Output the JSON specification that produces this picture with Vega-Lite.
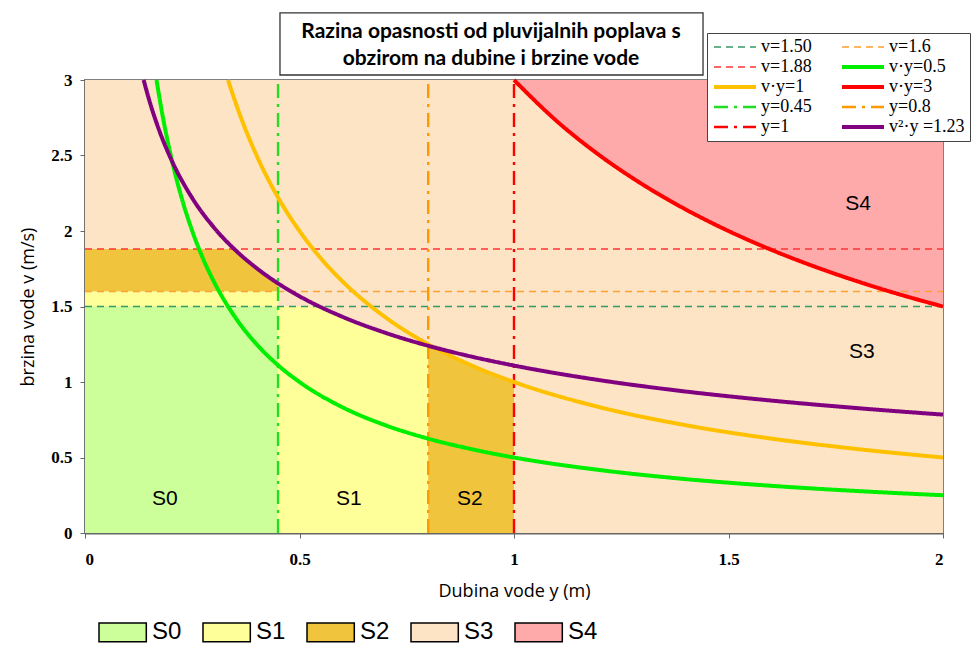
{
  "$schema": "https://vega.github.io/schema/vega-lite/v6.json",
  "width": 858,
  "height": 453,
  "autosize": {"type": "none"},
  "padding": {"left": 85, "top": 80, "right": 28, "bottom": 113},
  "background": "white",
  "title": {
    "text": ["Razina opasnosti od  pluvijalnih poplava s", "obzirom na dubine i brzine vode"],
    "font": "Lato",
    "fontSize": 21,
    "fontWeight": "bold",
    "color": "black",
    "anchor": "middle",
    "frame": "group",
    "dx": -23,
    "offset": -57,
    "lineHeight": 27,
    "zindex": 2
  },
  "config": {
    "view": {"stroke": "#808080", "strokeWidth": 2},
    "axis": {
      "zindex": 1,
      "labelFont": "Liberation Serif",
      "labelFontWeight": "bold",
      "labelFontSize": 17,
      "labelColor": "black",
      "tickColor": "#666666",
      "tickSize": 5,
      "domainColor": "#666666",
      "domainWidth": 2,
      "titleFont": "Open Sans",
      "titleFontSize": 18,
      "titleFontWeight": "normal",
      "titleColor": "black",
      "gridColor": "#999999",
      "gridOpacity": 0.6
    }
  },
  "datasets": {
    "zones": [
      {"zone": "S3", "piece": "a", "y": 0, "v": 3, "v2": 0},
      {"zone": "S3", "piece": "a", "y": 2, "v": 3, "v2": 0},
      {"zone": "S4", "piece": "b", "y": 1, "v": 3, "v2": 3},
      {"zone": "S4", "piece": "b", "y": 1.05, "v": 3, "v2": 2.857},
      {"zone": "S4", "piece": "b", "y": 1.1, "v": 3, "v2": 2.727},
      {"zone": "S4", "piece": "b", "y": 1.15, "v": 3, "v2": 2.609},
      {"zone": "S4", "piece": "b", "y": 1.2, "v": 3, "v2": 2.5},
      {"zone": "S4", "piece": "b", "y": 1.3, "v": 3, "v2": 2.308},
      {"zone": "S4", "piece": "b", "y": 1.4, "v": 3, "v2": 2.143},
      {"zone": "S4", "piece": "b", "y": 1.5, "v": 3, "v2": 2},
      {"zone": "S4", "piece": "b", "y": 1.6, "v": 3, "v2": 1.875},
      {"zone": "S4", "piece": "b", "y": 1.7, "v": 3, "v2": 1.765},
      {"zone": "S4", "piece": "b", "y": 1.8, "v": 3, "v2": 1.667},
      {"zone": "S4", "piece": "b", "y": 1.9, "v": 3, "v2": 1.579},
      {"zone": "S4", "piece": "b", "y": 2, "v": 3, "v2": 1.5},
      {"zone": "S2", "piece": "c", "y": 0, "v": 1.88, "v2": 1.6},
      {"zone": "S2", "piece": "c", "y": 0.348, "v": 1.88, "v2": 1.6},
      {"zone": "S2", "piece": "c", "y": 0.37, "v": 1.823, "v2": 1.6},
      {"zone": "S2", "piece": "c", "y": 0.39, "v": 1.776, "v2": 1.6},
      {"zone": "S2", "piece": "c", "y": 0.41, "v": 1.732, "v2": 1.6},
      {"zone": "S2", "piece": "c", "y": 0.43, "v": 1.691, "v2": 1.6},
      {"zone": "S2", "piece": "c", "y": 0.45, "v": 1.653, "v2": 1.6},
      {"zone": "S1", "piece": "d", "y": 0, "v": 1.6, "v2": 1.5},
      {"zone": "S1", "piece": "d", "y": 0.45, "v": 1.6, "v2": 1.5},
      {"zone": "S0", "piece": "e", "y": 0, "v": 1.5, "v2": 0},
      {"zone": "S0", "piece": "e", "y": 0.45, "v": 1.5, "v2": 0},
      {"zone": "S1", "piece": "f", "y": 0.45, "v": 1.5, "v2": 0},
      {"zone": "S1", "piece": "f", "y": 0.547, "v": 1.5, "v2": 0},
      {"zone": "S1", "piece": "f", "y": 0.6, "v": 1.432, "v2": 0},
      {"zone": "S1", "piece": "f", "y": 0.65, "v": 1.376, "v2": 0},
      {"zone": "S1", "piece": "f", "y": 0.7, "v": 1.326, "v2": 0},
      {"zone": "S1", "piece": "f", "y": 0.75, "v": 1.281, "v2": 0},
      {"zone": "S1", "piece": "f", "y": 0.8, "v": 1.24, "v2": 0},
      {"zone": "S2", "piece": "g", "y": 0.8, "v": 1.24, "v2": 0},
      {"zone": "S2", "piece": "g", "y": 0.85, "v": 1.176, "v2": 0},
      {"zone": "S2", "piece": "g", "y": 0.9, "v": 1.111, "v2": 0},
      {"zone": "S2", "piece": "g", "y": 0.95, "v": 1.053, "v2": 0},
      {"zone": "S2", "piece": "g", "y": 1.0, "v": 1.0, "v2": 0}
    ],
    "lines": [
      {"s": "v=1.50", "i": 0, "y": 0, "v": 1.5},
      {"s": "v=1.50", "i": 1, "y": 2, "v": 1.5},
      {"s": "v=1.6", "i": 0, "y": 0, "v": 1.6},
      {"s": "v=1.6", "i": 1, "y": 2, "v": 1.6},
      {"s": "v=1.88", "i": 0, "y": 0, "v": 1.88},
      {"s": "v=1.88", "i": 1, "y": 2, "v": 1.88},
      {"s": "y=0.45", "i": 0, "y": 0.45, "v": 0},
      {"s": "y=0.45", "i": 1, "y": 0.45, "v": 3},
      {"s": "y=0.8", "i": 0, "y": 0.8, "v": 0},
      {"s": "y=0.8", "i": 1, "y": 0.8, "v": 3},
      {"s": "y=1", "i": 0, "y": 1, "v": 0},
      {"s": "y=1", "i": 1, "y": 1, "v": 3},
      {"s": "v·y=0.5", "i": 0, "y": 0.1667, "v": 3},
      {"s": "v·y=0.5", "i": 1, "y": 0.18, "v": 2.778},
      {"s": "v·y=0.5", "i": 2, "y": 0.2, "v": 2.5},
      {"s": "v·y=0.5", "i": 3, "y": 0.225, "v": 2.222},
      {"s": "v·y=0.5", "i": 4, "y": 0.25, "v": 2},
      {"s": "v·y=0.5", "i": 5, "y": 0.275, "v": 1.818},
      {"s": "v·y=0.5", "i": 6, "y": 0.3, "v": 1.667},
      {"s": "v·y=0.5", "i": 7, "y": 0.35, "v": 1.429},
      {"s": "v·y=0.5", "i": 8, "y": 0.4, "v": 1.25},
      {"s": "v·y=0.5", "i": 9, "y": 0.45, "v": 1.111},
      {"s": "v·y=0.5", "i": 10, "y": 0.5, "v": 1},
      {"s": "v·y=0.5", "i": 11, "y": 0.6, "v": 0.833},
      {"s": "v·y=0.5", "i": 12, "y": 0.7, "v": 0.714},
      {"s": "v·y=0.5", "i": 13, "y": 0.8, "v": 0.625},
      {"s": "v·y=0.5", "i": 14, "y": 0.9, "v": 0.556},
      {"s": "v·y=0.5", "i": 15, "y": 1, "v": 0.5},
      {"s": "v·y=0.5", "i": 16, "y": 1.2, "v": 0.417},
      {"s": "v·y=0.5", "i": 17, "y": 1.4, "v": 0.357},
      {"s": "v·y=0.5", "i": 18, "y": 1.6, "v": 0.3125},
      {"s": "v·y=0.5", "i": 19, "y": 1.8, "v": 0.278},
      {"s": "v·y=0.5", "i": 20, "y": 2, "v": 0.25},
      {"s": "v·y=1", "i": 0, "y": 0.3333, "v": 3},
      {"s": "v·y=1", "i": 1, "y": 0.36, "v": 2.778},
      {"s": "v·y=1", "i": 2, "y": 0.4, "v": 2.5},
      {"s": "v·y=1", "i": 3, "y": 0.45, "v": 2.222},
      {"s": "v·y=1", "i": 4, "y": 0.5, "v": 2},
      {"s": "v·y=1", "i": 5, "y": 0.55, "v": 1.818},
      {"s": "v·y=1", "i": 6, "y": 0.6, "v": 1.667},
      {"s": "v·y=1", "i": 7, "y": 0.7, "v": 1.429},
      {"s": "v·y=1", "i": 8, "y": 0.8, "v": 1.25},
      {"s": "v·y=1", "i": 9, "y": 0.9, "v": 1.111},
      {"s": "v·y=1", "i": 10, "y": 1, "v": 1},
      {"s": "v·y=1", "i": 11, "y": 1.2, "v": 0.833},
      {"s": "v·y=1", "i": 12, "y": 1.4, "v": 0.714},
      {"s": "v·y=1", "i": 13, "y": 1.6, "v": 0.625},
      {"s": "v·y=1", "i": 14, "y": 1.8, "v": 0.556},
      {"s": "v·y=1", "i": 15, "y": 2, "v": 0.5},
      {"s": "v·y=3", "i": 0, "y": 1, "v": 3},
      {"s": "v·y=3", "i": 1, "y": 1.1, "v": 2.727},
      {"s": "v·y=3", "i": 2, "y": 1.2, "v": 2.5},
      {"s": "v·y=3", "i": 3, "y": 1.3, "v": 2.308},
      {"s": "v·y=3", "i": 4, "y": 1.4, "v": 2.143},
      {"s": "v·y=3", "i": 5, "y": 1.5, "v": 2},
      {"s": "v·y=3", "i": 6, "y": 1.6, "v": 1.875},
      {"s": "v·y=3", "i": 7, "y": 1.7, "v": 1.765},
      {"s": "v·y=3", "i": 8, "y": 1.8, "v": 1.667},
      {"s": "v·y=3", "i": 9, "y": 1.9, "v": 1.579},
      {"s": "v·y=3", "i": 10, "y": 2, "v": 1.5},
      {"s": "v²·y =1.23", "i": 0, "y": 0.1367, "v": 3},
      {"s": "v²·y =1.23", "i": 1, "y": 0.15, "v": 2.864},
      {"s": "v²·y =1.23", "i": 2, "y": 0.175, "v": 2.651},
      {"s": "v²·y =1.23", "i": 3, "y": 0.2, "v": 2.48},
      {"s": "v²·y =1.23", "i": 4, "y": 0.25, "v": 2.218},
      {"s": "v²·y =1.23", "i": 5, "y": 0.3, "v": 2.025},
      {"s": "v²·y =1.23", "i": 6, "y": 0.35, "v": 1.875},
      {"s": "v²·y =1.23", "i": 7, "y": 0.4, "v": 1.754},
      {"s": "v²·y =1.23", "i": 8, "y": 0.45, "v": 1.653},
      {"s": "v²·y =1.23", "i": 9, "y": 0.5, "v": 1.568},
      {"s": "v²·y =1.23", "i": 10, "y": 0.6, "v": 1.432},
      {"s": "v²·y =1.23", "i": 11, "y": 0.7, "v": 1.326},
      {"s": "v²·y =1.23", "i": 12, "y": 0.8, "v": 1.24},
      {"s": "v²·y =1.23", "i": 13, "y": 0.9, "v": 1.169},
      {"s": "v²·y =1.23", "i": 14, "y": 1, "v": 1.109},
      {"s": "v²·y =1.23", "i": 15, "y": 1.2, "v": 1.012},
      {"s": "v²·y =1.23", "i": 16, "y": 1.4, "v": 0.937},
      {"s": "v²·y =1.23", "i": 17, "y": 1.6, "v": 0.877},
      {"s": "v²·y =1.23", "i": 18, "y": 1.8, "v": 0.827},
      {"s": "v²·y =1.23", "i": 19, "y": 2, "v": 0.784}
    ],
    "labels": [
      {"label": "S0", "y": 0.186, "v": 0.225},
      {"label": "S1", "y": 0.615, "v": 0.225},
      {"label": "S2", "y": 0.897, "v": 0.225},
      {"label": "S3", "y": 1.811, "v": 1.199},
      {"label": "S4", "y": 1.802, "v": 2.179}
    ]
  },
  "layer": [
    {
      "data": {"name": "zones"},
      "transform": [{"filter": "datum.zone === 'S3'"}],
      "mark": {"type": "area", "opacity": 1},
      "encoding": {
        "x": {
          "field": "y",
          "type": "quantitative",
          "title": "Dubina vode y (m)",
          "scale": {"domain": [0, 2], "nice": false, "zero": false},
          "axis": {"values": [0, 0.5, 1, 1.5, 2], "format": ".1~f", "grid": false, "labelPadding": 13, "titlePadding": 15}
        },
        "y": {
          "field": "v",
          "type": "quantitative",
          "title": "brzina vode v (m/s)",
          "scale": {"domain": [0, 3], "nice": false, "zero": false},
          "axis": {"values": [0, 0.5, 1, 1.5, 2, 2.5, 3], "format": ".1~f", "grid": true, "labelPadding": 8, "titlePadding": 13}
        },
        "y2": {"field": "v2"},
        "detail": {"field": "piece"},
        "fill": {
          "field": "zone",
          "type": "nominal",
          "scale": {"domain": ["S0", "S1", "S2", "S3", "S4"], "range": ["#CCFF99", "#FFFF99", "#F0C43C", "#FDE4C4", "#FFAAAA"]},
          "legend": {
            "title": null,
            "orient": "none",
            "legendX": 13,
            "legendY": 540,
            "direction": "horizontal",
            "symbolType": "M-1,-0.85H3.3V0.85H-1Z",
            "symbolSize": 484,
            "symbolStrokeColor": "black",
            "symbolStrokeWidth": 1.5,
            "symbolOpacity": 1,
            "labelOffset": 30,
            "labelFont": "Liberation Sans Narrow, Liberation Sans",
            "labelFontSize": 24,
            "labelColor": "black",
            "columnPadding": 18
          }
        }
      }
    },
    {
      "data": {"name": "zones"},
      "transform": [{"filter": "datum.zone !== 'S3'"}],
      "mark": {"type": "area", "opacity": 1},
      "encoding": {
        "x": {"field": "y", "type": "quantitative"},
        "y": {"field": "v", "type": "quantitative"},
        "y2": {"field": "v2"},
        "detail": {"field": "piece"},
        "fill": {"field": "zone", "type": "nominal"}
      }
    },
    {
      "data": {"name": "lines"},
      "mark": {"type": "line", "interpolate": "monotone"},
      "encoding": {
        "x": {"field": "y", "type": "quantitative"},
        "y": {"field": "v", "type": "quantitative"},
        "order": {"field": "i", "type": "quantitative"},
        "stroke": {
          "field": "s",
          "type": "nominal",
          "scale": {
            "domain": ["v=1.50", "v=1.6", "v=1.88", "v·y=0.5", "v·y=1", "v·y=3", "y=0.45", "y=0.8", "y=1", "v²·y =1.23"],
            "range": ["#339966", "#FFA030", "#FF3333", "#00EE00", "#FFC000", "#FF0000", "#22DD22", "#FF9900", "#FF0000", "#800080"]
          },
          "legend": {
            "title": null,
            "orient": "none",
            "legendX": 622,
            "legendY": -47,
            "direction": "horizontal",
            "columns": 2,
            "symbolType": "M-1,0H5",
            "symbolSize": 196,
            "symbolOpacity": 1,
            "labelOffset": 31,
            "labelFont": "Liberation Serif",
            "labelFontSize": 18,
            "labelColor": "black",
            "labelLimit": 300,
            "rowPadding": 2,
            "columnPadding": 22,
            "padding": 5,
            "strokeColor": "#444444",
            "fillColor": "white"
          }
        },
        "strokeDash": {
          "field": "s",
          "type": "nominal",
          "scale": {
            "domain": ["v=1.50", "v=1.6", "v=1.88", "v·y=0.5", "v·y=1", "v·y=3", "y=0.45", "y=0.8", "y=1", "v²·y =1.23"],
            "range": [[7, 5], [7, 5], [7, 5], [1, 0], [1, 0], [1, 0], [14, 6, 3, 6], [14, 6, 3, 6], [14, 6, 3, 6], [1, 0]]
          }
        },
        "strokeWidth": {
          "field": "s",
          "type": "nominal",
          "scale": {
            "type": "ordinal",
            "domain": ["v=1.50", "v=1.6", "v=1.88", "v·y=0.5", "v·y=1", "v·y=3", "y=0.45", "y=0.8", "y=1", "v²·y =1.23"],
            "range": [1.5, 1.5, 1.5, 4, 4, 4, 2.4, 2.4, 2.4, 4]
          }
        }
      }
    },
    {
      "data": {"name": "labels"},
      "mark": {"type": "text", "font": "Liberation Sans", "fontSize": 21, "color": "black"},
      "encoding": {
        "x": {"field": "y", "type": "quantitative"},
        "y": {"field": "v", "type": "quantitative"},
        "text": {"field": "label"}
      }
    },
    {
      "data": {"values": [{}]},
      "mark": {"type": "rect", "fill": "white", "stroke": "#333333", "strokeWidth": 1.3},
      "encoding": {
        "x": {"datum": 0.4545},
        "x2": {"datum": 1.4406},
        "y": {"datum": 3.444},
        "y2": {"datum": 3.033}
      }
    }
  ]
}
